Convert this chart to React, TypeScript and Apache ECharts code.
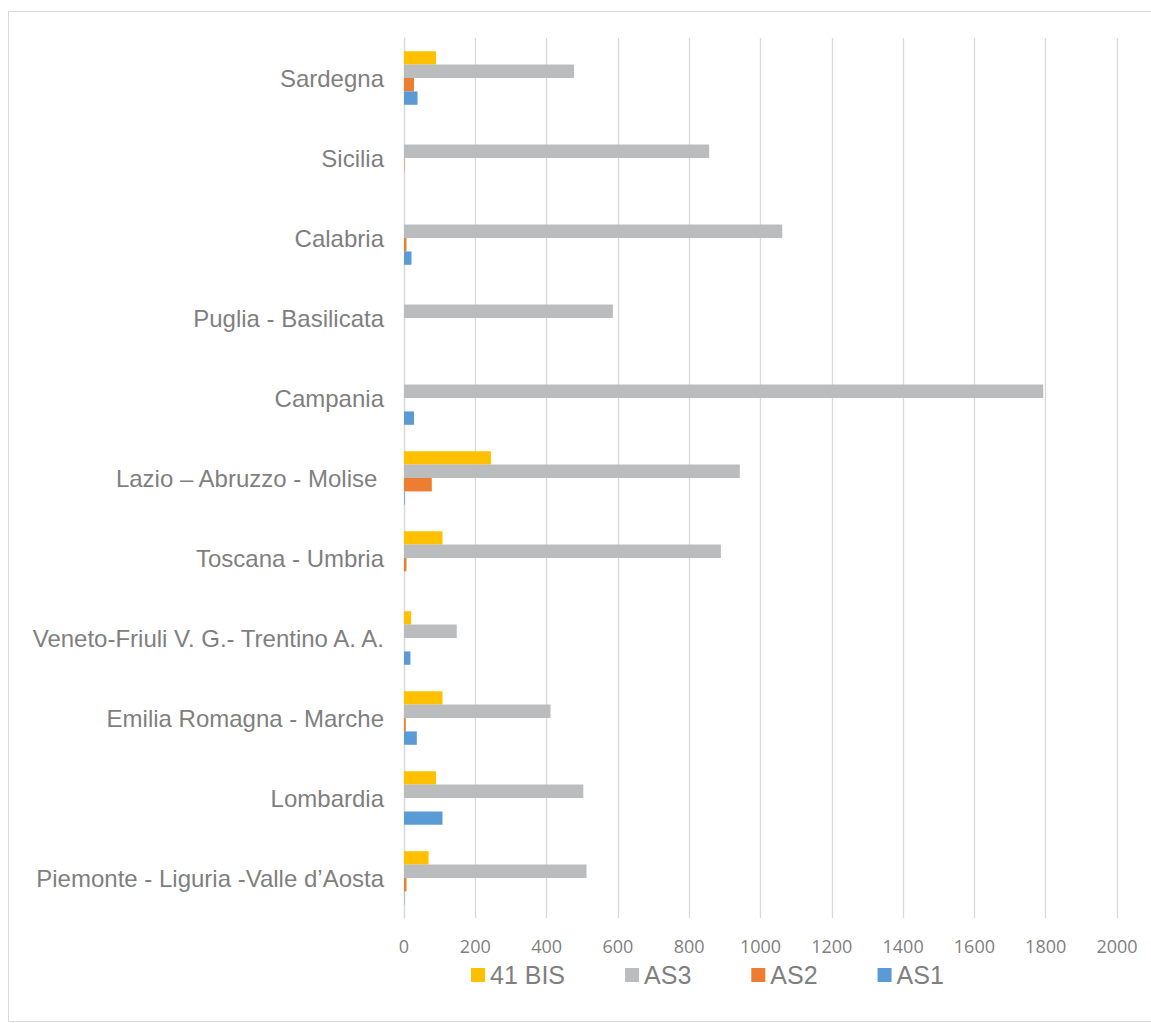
import React, { useEffect, useRef } from "react";
import * as echarts from "echarts";

const categories = [
  "Piemonte - Liguria -Valle d’Aosta",
  "Lombardia",
  "Emilia Romagna - Marche",
  "Veneto-Friuli V. G.- Trentino A. A.",
  "Toscana - Umbria",
  "Lazio – Abruzzo - Molise ",
  "Campania",
  "Puglia - Basilicata",
  "Calabria",
  "Sicilia",
  "Sardegna",
];

const as1 = [1, 108, 36, 18, 0, 2, 28, 0, 21, 0, 38];
const as2 = [7, 0, 5, 0, 7, 78, 0, 0, 7, 1, 28];
const as3 = [512, 503, 411, 148, 889, 942, 1793, 586, 1061, 856, 477];
const bis41 = [69, 90, 108, 20, 108, 244, 0, 0, 0, 0, 90];

const xTicks = { min: 0, max: 2000, interval: 200 };
const legendOrder = ["41 BIS", "AS3", "AS2", "AS1"];

const TEXT = "#7f7f7f";
const FONT = "'Liberation Sans', Arial, sans-serif";

export default function App() {
  const ref = useRef<HTMLDivElement>(null);
  useEffect(() => {
    if (!ref.current) return;
    const chart = echarts.init(ref.current, null, { renderer: "svg" });
    const mk = (name: string, data: number[], color: string) => ({
      name,
      type: "bar",
      data,
      itemStyle: { color },
      barGap: "0%",
      barCategoryGap: "33%",
    });
    chart.setOption({
      animation: false,
      backgroundColor: "#ffffff",
      graphic: [
        {
          type: "rect",
          shape: { x: 8.5, y: 11.5, width: 1200, height: 1010 },
          style: { fill: "none", stroke: "#d9d9d9", lineWidth: 1 },
          silent: true,
        },
      ],
      grid: {
        left: 404,
        right: 34,
        top: 38,
        bottom: 105,
        containLabel: false,
        outerBoundsMode: "none",
      },
      legend: {
        data: legendOrder,
        left: 471,
        top: 962,
        padding: 0,
        itemWidth: 14,
        itemHeight: 14,
        itemGap: 60,
        icon: "rect",
        textStyle: { color: TEXT, fontSize: 25, fontFamily: FONT, lineHeight: 26 },
      },
      xAxis: {
        type: "value",
        min: xTicks.min,
        max: xTicks.max,
        interval: xTicks.interval,
        axisLine: { show: false },
        axisTick: { show: false },
        splitLine: { show: true, lineStyle: { color: "#d9d9d9", width: 1.3 } },
        axisLabel: {
          color: TEXT,
          fontSize: 18,
          fontFamily: "'Open Sans', sans-serif",
          margin: 19,
          formatter: (v: number) => String(v),
        },
      },
      yAxis: {
        type: "category",
        data: categories,
        axisLine: { show: true, lineStyle: { color: "#d9d9d9", width: 1.3 } },
        axisTick: { show: false },
        axisLabel: {
          color: TEXT,
          fontSize: 24,
          fontFamily: FONT,
          margin: 20,
        },
      },
      series: [
        mk("41 BIS", bis41, "#ffc000"),
        mk("AS3", as3, "#bbbcbe"),
        mk("AS2", as2, "#ed7d31"),
        mk("AS1", as1, "#5b9bd5"),
      ],
    });
    return () => chart.dispose();
  }, []);
  return (
    <div
      ref={ref}
      style={{ position: "absolute", left: 0, top: 0, width: 1151, height: 1023 }}
    />
  );
}
